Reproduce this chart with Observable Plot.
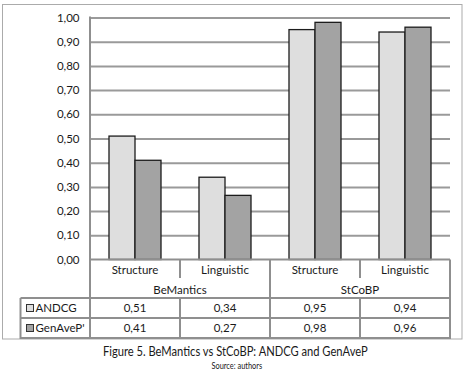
<!DOCTYPE html>
<html><head><meta charset="utf-8">
<script src="https://cdn.jsdelivr.net/npm/d3@7"></script>
<script src="https://cdn.jsdelivr.net/npm/@observablehq/plot@0.6"></script>
<style>
body{margin:0;background:#fff;}
#wrap{position:relative;width:472px;height:381px;overflow:hidden;font-family:Lato,"Open Sans",sans-serif;color:#1a1a1a;}
.cap{position:absolute;white-space:nowrap;transform-origin:center center;}
</style></head><body><div id="wrap"></div>
<script>
// ---- data ----
const groups = ["BeMantics", "BeMantics", "StCoBP", "StCoBP"];
const categories = ["Structure", "Linguistic", "Structure", "Linguistic"];
const series = ["ANDCG", "GenAveP'"];
const andcg = [0.51, 0.34, 0.95, 0.94];
const genavep = [0.41, 0.265, 0.98, 0.96];
const yTicks = [0, 0.1, 0.2, 0.3, 0.4, 0.5, 0.6, 0.7, 0.8, 0.9, 1.0];
const title = "Figure 5. BeMantics vs StCoBP: ANDCG and GenAveP";
const source = "Source: authors";

const colors = ["#dedede", "#a3a3a3"];
const fmt = d => d.toFixed(2).replace(".", ",");
const keys = categories.map((c, i) => groups[i] + " · " + c + " · " + i);
const values = [andcg, genavep];
const data = [];
keys.forEach((k, i) => series.forEach((s, j) => data.push({key: k, series: s, value: values[j][i]})));

const FS = 11.5;
const wrap = document.getElementById("wrap");
const plot = Plot.plot({
  width: 472, height: 262,
  marginLeft: 88, marginRight: 21, marginTop: 17.5, marginBottom: 2.5,
  style: {fontFamily: "Lato, 'Open Sans', sans-serif", fontSize: FS + "px", color: "#1a1a1a", background: "transparent", overflow: "visible"},
  fx: {domain: keys, padding: 0, axis: null},
  x: {domain: series, paddingInner: 0, paddingOuter: 0.73, axis: null},
  y: {domain: [0, 1], ticks: yTicks, tickFormat: fmt, tickSize: 0, tickPadding: 11, label: null},
  color: {domain: series, range: colors},
  marks: [
    Plot.ruleY(yTicks.slice(1), {stroke: "#9a9a9a", strokeWidth: 2}),
    Plot.barY(data, {fx: "key", x: "series", y: "value", fill: "series", stroke: "#1c1c1c", strokeWidth: 1.3})
  ]
});
plot.style.position = "absolute"; plot.style.left = "0px"; plot.style.top = "0px";
wrap.appendChild(plot);

const fx = plot.scale("fx"), y = plot.scale("y");
const bw = fx.bandwidth;
const L = fx.apply(keys[0]), R = fx.apply(keys[keys.length - 1]) + bw;
const y0 = y.apply(0), y1 = y.apply(1);
const r1 = y0 + 19.5, r2 = y0 + 38.5, r3 = y0 + 58.5, r4 = y0 + 78.5;
const legL = 20.5;

const svg = d3.select(wrap).append("svg").attr("width", 472).attr("height", 381)
  .style("position", "absolute").style("left", "0px").style("top", "0px")
  .attr("font-family", "Lato, 'Open Sans', sans-serif").attr("font-size", FS).attr("fill", "#1a1a1a");

svg.append("rect").attr("x", 2.5).attr("y", 4.5).attr("width", 459.5).attr("height", 334.5)
  .attr("fill", "none").attr("stroke", "#ababab").attr("stroke-width", 1);

const lineCol = "#8f8f8f";
function line(x1, ya, x2, yb, w = 2) {
  svg.append("line").attr("x1", x1).attr("y1", ya).attr("x2", x2).attr("y2", yb)
    .attr("stroke", lineCol).attr("stroke-width", w);
}
line(L, y1 - 1, L, r4 + 1);
line(L, y0, R, y0);
line(R, y0, R, r4 + 1);
for (let i = 1; i < keys.length; i++) {
  const bx = fx.apply(keys[i]);
  if (groups[i] !== groups[i - 1]) line(bx, y0, bx, r4);
  else { line(bx, y0, bx, r1 - 1); line(bx, r2, bx, r4); }
}
[r2, r3, r4].forEach(ry => line(legL, ry, R + 1, ry));
line(legL, r2, legL, r4 + 1);

function text(str, x, yy, anchor = "middle") {
  svg.append("text").attr("x", x).attr("y", yy).attr("text-anchor", anchor)
    .attr("dy", "0.35em").text(str);
}
keys.forEach((k, i) => {
  const cx = fx.apply(k) + bw / 2;
  text(categories[i], cx, y0 + 10.5);
  text(fmt(andcg[i]), cx, r2 + 10);
  text(fmt(genavep[i]), cx, r3 + 10);
});
const uniqueGroups = [...new Set(groups)];
uniqueGroups.forEach(g => {
  const idx = keys.filter((k, i) => groups[i] === g);
  const gx = (fx.apply(idx[0]) + fx.apply(idx[idx.length - 1]) + bw) / 2;
  text(g, gx, r1 + 10.5);
});
series.forEach((s, j) => {
  const ry = (j === 0 ? r2 : r3) + 10;
  svg.append("rect").attr("x", 26.5).attr("y", ry - 3.5).attr("width", 7).attr("height", 7)
    .attr("fill", colors[j]).attr("stroke", "#333").attr("stroke-width", 1);
  text(s, 35.5, ry, "start");
});

function caption(str, cx, cy, size, targetW) {
  const el = document.createElement("div");
  el.className = "cap"; el.textContent = str;
  el.style.fontSize = size + "px"; el.style.lineHeight = size + "px";
  wrap.appendChild(el);
  const w = el.offsetWidth;
  el.style.left = (cx - w / 2) + "px";
  el.style.top = (cy - size / 2) + "px";
  el.style.transform = "scaleX(" + (targetW / w) + ")";
}
caption(title, 235, 352, 12.5, 265);
caption(source, 237, 365, 9, 51);
</script></body></html>
